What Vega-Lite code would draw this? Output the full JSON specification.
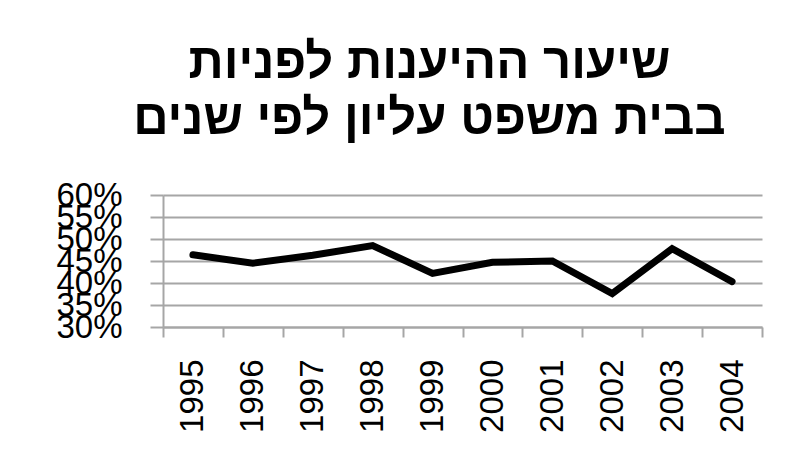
{
  "$schema": "https://vega.github.io/schema/vega-lite/v6.json",
  "autosize": "none",
  "width": 599,
  "height": 132,
  "padding": {"left": 163, "top": 195, "right": 24, "bottom": 139},
  "background": "white",
  "title": {
    "text": ["שיעור ההיענות לפניות", "בבית משפט עליון לפי שנים"],
    "font": "Liberation Sans",
    "fontSize": 49,
    "fontWeight": "bold",
    "color": "black",
    "lineHeight": 56,
    "anchor": "middle",
    "frame": "group",
    "dx": -33,
    "offset": 35
  },
  "data": {
    "values": [
      {"year": "1995", "rate": 0.464},
      {"year": "1996", "rate": 0.445},
      {"year": "1997", "rate": 0.463},
      {"year": "1998", "rate": 0.485},
      {"year": "1999", "rate": 0.422},
      {"year": "2000", "rate": 0.447},
      {"year": "2001", "rate": 0.450},
      {"year": "2002", "rate": 0.376},
      {"year": "2003", "rate": 0.478},
      {"year": "2004", "rate": 0.403}
    ]
  },
  "mark": {"type": "line", "color": "black", "strokeWidth": 7, "strokeCap": "round", "strokeJoin": "miter"},
  "encoding": {
    "x": {
      "field": "year",
      "type": "ordinal",
      "scale": {"type": "band", "paddingInner": 0, "paddingOuter": 0},
      "axis": {
        "title": null,
        "labelAngle": -90,
        "labelFont": "Liberation Sans",
        "labelFontSize": 33,
        "labelColor": "black",
        "labelPadding": 22,
        "tickBand": "extent",
        "tickSize": 10,
        "tickColor": "#a6a6a6",
        "tickWidth": 2,
        "domainColor": "#a6a6a6",
        "domainWidth": 2,
        "grid": false
      }
    },
    "y": {
      "field": "rate",
      "type": "quantitative",
      "scale": {"domain": [0.3, 0.6], "nice": false, "zero": false},
      "axis": {
        "title": null,
        "values": [0.3, 0.35, 0.4, 0.45, 0.5, 0.55, 0.6],
        "format": ".0%",
        "labelFont": "Liberation Sans",
        "labelFontSize": 33,
        "labelColor": "black",
        "labelPadding": 28,
        "labelOverlap": false,
        "labelBound": false,
        "labelFlush": false,
        "tickSize": 13,
        "tickColor": "#a6a6a6",
        "tickWidth": 2,
        "domainColor": "#a6a6a6",
        "domainWidth": 2,
        "grid": true,
        "gridColor": "#a6a6a6",
        "gridWidth": 2
      }
    }
  },
  "config": {"view": {"stroke": null}}
}
